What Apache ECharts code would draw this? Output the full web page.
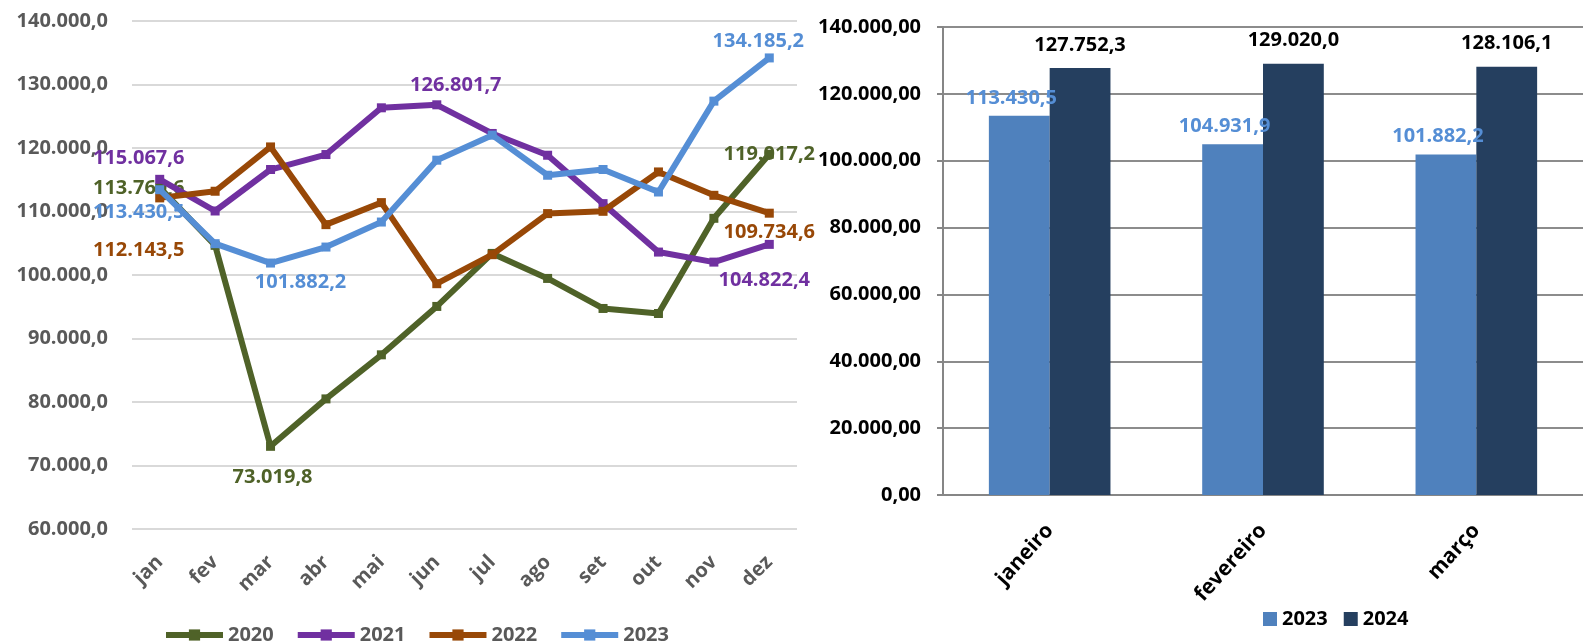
<!DOCTYPE html>
<html>
<head>
<meta charset="utf-8">
<script src="https://cdn.jsdelivr.net/npm/echarts@6/dist/echarts.min.js"></script>
<style>
	html, body { margin: 0; padding: 0; background: #fff; }
	#grafico { width: 1583px; height: 641px; }
</style>
</head>
<body>
<div id="grafico"></div>
<script>
// dados do gráfico de linhas (mensal)
var meses = ['jan', 'fev', 'mar', 'abr', 'mai', 'jun', 'jul', 'ago', 'set', 'out', 'nov', 'dez'];
var anos = ['2020', '2021', '2022', '2023'];
var serie2020 = [113760.6, 104669, 73019.8, 80489, 87430, 95050, 103400, 99460, 94730, 93940, 108930, 119017.2];
var serie2021 = [115067.6, 110080, 116610, 118970, 126330, 126801.7, 122290, 118860, 111240, 103610, 102030, 104822.4];
var serie2022 = [112143.5, 113190, 120170, 107930, 111400, 98630, 103200, 109670, 110030, 116230, 112550, 109734.6];
var serie2023 = [113430.5, 104931.9, 101882.2, 104400, 108340, 118080, 122020, 115710, 116610, 113070, 127380, 134185.2];

// dados do gráfico de barras (trimestre)
var mesesTri = ['janeiro', 'fevereiro', 'março'];
var barras2023 = [113430.5, 104931.9, 101882.2];
var barras2024 = [127752.3, 129020.0, 128106.1];

function fmt(v, casas) {
	var partes = v.toFixed(casas).split('.');
	return partes[0].replace(/\B(?=(\d{3})+(?!\d))/g, '.') + ',' + partes[1];
}

(function() {
	var fonte = '"Open Sans", Lato, sans-serif';
	var cores = ['#4f6228', '#7030a0', '#984807', '#558ed5'];
	var valores = [serie2020, serie2021, serie2022, serie2023];
	// quais pontos levam rótulo e o deslocamento de cada um
	var rotulos = [
		{0: [-21, 1], 2: [2, 31], 11: [0, 0]},
		{0: [-21, -21], 5: [19, -20], 11: [-5, 36]},
		{0: [-21, 52], 11: [0, 19]},
		{0: [-21, 23], 2: [30, 19], 11: [-11, -17]}
	];

	var series = valores.map(function(vals, s) {
		return {
			name: anos[s],
			type: 'line',
			xAxisIndex: 0,
			yAxisIndex: 0,
			symbol: 'rect',
			symbolSize: 9,
			color: cores[s],
			lineStyle: { width: 6, color: cores[s] },
			itemStyle: { color: cores[s] },
			z: 2 + s,
			data: vals.map(function(v, i) {
				var off = rotulos[s][i];
				if (!off) return v;
				return {
					value: v,
					label: {
						show: true,
						position: 'inside',
						offset: off,
						color: cores[s],
						fontFamily: fonte,
						fontWeight: 'bold',
						fontSize: 20,
						formatter: function(p) { return fmt(p.value, 1); }
					}
				};
			})
		};
	});

	series.push({
		name: 'Barra 2023',
		type: 'bar',
		xAxisIndex: 1,
		yAxisIndex: 1,
		barGap: '0%',
		barCategoryGap: '43%',
		itemStyle: { color: '#4f81bd' },
		label: {
			show: true,
			position: 'top',
			distance: 8,
			offset: [-8, 0],
			color: '#558ed5',
			fontFamily: fonte,
			fontWeight: 'bold',
			fontSize: 20,
			formatter: function(p) { return fmt(p.value, 1); }
		},
		data: barras2023
	});
	series.push({
		name: 'Barra 2024',
		type: 'bar',
		xAxisIndex: 1,
		yAxisIndex: 1,
		itemStyle: { color: '#253f5f' },
		label: {
			show: true,
			position: 'top',
			distance: 13,
			color: '#000',
			fontFamily: fonte,
			fontWeight: 'bold',
			fontSize: 20,
			formatter: function(p) { return fmt(p.value, 1); }
		},
		data: barras2024
	});

	var myChart = echarts.init(document.getElementById('grafico'));
	var option = {
		animation: false,
		backgroundColor: '#fff',
		textStyle: { fontFamily: fonte },
		grid: [
			{ left: 132, top: 21, width: 665, height: 508 },
			{ left: 943, top: 27, width: 655, height: 468 }
		],
		legend: [{
			data: anos,
			left: 158,
			top: 620,
			itemWidth: 57,
			itemHeight: 14,
			itemGap: 21,
			lineStyle: { width: 6 },
			textStyle: { color: '#595959', fontWeight: 'bold', fontSize: 20, fontFamily: fonte }
		}, {
			data: ['Barra 2023', 'Barra 2024'],
			left: 1258,
			top: 604,
			icon: 'rect',
			itemWidth: 14,
			itemHeight: 14,
			itemGap: 16,
			formatter: function(n) { return n.replace('Barra ', ''); },
			textStyle: { color: '#000', fontWeight: 'bold', fontSize: 20, fontFamily: fonte }
		}],
		xAxis: [{
			gridIndex: 0,
			type: 'category',
			data: meses,
			boundaryGap: true,
			axisLine: { show: false },
			axisTick: { show: false },
			axisLabel: { rotate: 45, margin: 30, color: '#595959', fontWeight: 'bold', fontSize: 20, fontFamily: fonte }
		}, {
			gridIndex: 1,
			type: 'category',
			data: mesesTri,
			axisLine: { lineStyle: { color: '#868686', width: 2 } },
			axisTick: { length: 6, lineStyle: { color: '#868686', width: 2 } },
			axisLabel: { rotate: 48, margin: 32, color: '#000', fontWeight: 'bold', fontSize: 21, fontFamily: fonte }
		}],
		yAxis: [{
			gridIndex: 0,
			type: 'value',
			min: 60000,
			max: 140000,
			interval: 10000,
			axisLine: { show: false },
			axisTick: { show: false },
			splitLine: { lineStyle: { color: '#d9d9d9', width: 2 } },
			axisLabel: {
				margin: 24, color: '#595959', fontWeight: 'bold', fontSize: 20, fontFamily: fonte,
				formatter: function(v) { return fmt(v, 1); }
			}
		}, {
			gridIndex: 1,
			type: 'value',
			min: 0,
			max: 140000,
			interval: 20000,
			axisLine: { show: true, lineStyle: { color: '#868686', width: 2 } },
			axisTick: { show: true, length: 6, lineStyle: { color: '#868686', width: 2 } },
			splitLine: { lineStyle: { color: '#8c8c8c', width: 2 } },
			axisLabel: {
				margin: 22, color: '#000', fontWeight: 'bold', fontSize: 20, fontFamily: fonte,
				formatter: function(v) { return fmt(v, 2); }
			}
		}],
		series: series
	};
	myChart.setOption(option);
	window.addEventListener('resize', function() {
		myChart.resize();
	});
})();
</script>
</body>
</html>
